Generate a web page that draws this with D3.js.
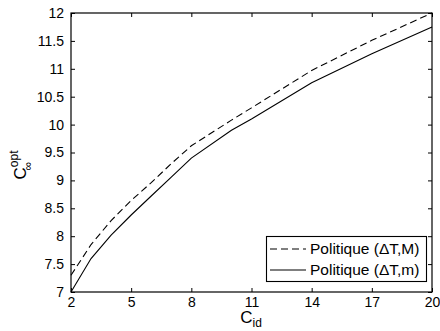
<!DOCTYPE html>
<html>
<head>
<meta charset="utf-8">
<script src="https://cdn.jsdelivr.net/npm/d3@7"></script>
<style>
  html, body { margin: 0; padding: 0; background: #fff; }
  svg { display: block; font-family: "Liberation Sans", Arial, sans-serif; }
</style>
</head>
<body>
<svg id="chart" width="440" height="331"></svg>
<script>
// C_id values and the optimal C∞ for both policies
const cId = [2, 3, 4, 5, 6, 7, 8, 10, 11, 14, 17, 20];
const policyM = [7.30, 7.85, 8.28, 8.64, 8.96, 9.30, 9.62, 10.08, 10.30, 10.97, 11.51, 12.00];
const policym = [7.00, 7.60, 8.02, 8.38, 8.72, 9.06, 9.40, 9.90, 10.10, 10.75, 11.27, 11.75];
const xTicks = [2, 5, 8, 11, 14, 17, 20];
const yTicks = [7, 7.5, 8, 8.5, 9, 9.5, 10, 10.5, 11, 11.5, 12];
const seriesNames = ["Politique (\u0394T,M)", "Politique (\u0394T,m)"];

const svg = d3.select("#chart");
const plotL = 71, plotR = 432, plotT = 13, plotB = 292;

const x = d3.scaleLinear().domain([2, 20]).range([plotL, plotR]);
const y = d3.scaleLinear().domain([7, 12]).range([plotB, plotT]);

const fmt = d => String(d);
const tickLen = 4;

// bottom and left axes with inward ticks
const gx = svg.append("g").attr("transform", `translate(0,${plotB})`)
  .call(d3.axisBottom(x).tickValues(xTicks).tickFormat(fmt).tickSizeInner(-tickLen).tickSizeOuter(0).tickPadding(5));
const gy = svg.append("g").attr("transform", `translate(${plotL},0)`)
  .call(d3.axisLeft(y).tickValues(yTicks).tickFormat(fmt).tickSizeInner(-tickLen).tickSizeOuter(0).tickPadding(7));
// top and right mirror ticks
const gxt = svg.append("g").attr("transform", `translate(0,${plotT})`)
  .call(d3.axisTop(x).tickValues(xTicks).tickFormat("").tickSizeInner(-tickLen).tickSizeOuter(0));
const gyr = svg.append("g").attr("transform", `translate(${plotR},0)`)
  .call(d3.axisRight(y).tickValues(yTicks).tickFormat("").tickSizeInner(-tickLen).tickSizeOuter(0));

[gx, gy, gxt, gyr].forEach(g => {
  g.select(".domain").remove();
  g.selectAll("line").attr("stroke", "#000").attr("stroke-width", 1);
  g.selectAll("text").attr("fill", "#000").attr("font-size", 14)
   .attr("font-family", "Liberation Sans, Arial, sans-serif");
});
gx.selectAll("text").attr("dy", "0.71em");

// plot box
svg.append("rect")
  .attr("x", plotL).attr("y", plotT)
  .attr("width", plotR - plotL).attr("height", plotB - plotT)
  .attr("fill", "none").attr("stroke", "#000").attr("stroke-width", 1.2);

// curves
const line = d3.line().x((d, i) => x(cId[i])).y(d => y(d));
svg.append("path").datum(policyM)
  .attr("d", line).attr("fill", "none").attr("stroke", "#000")
  .attr("stroke-width", 1.1).attr("stroke-dasharray", "7,4");
svg.append("path").datum(policym)
  .attr("d", line).attr("fill", "none").attr("stroke", "#000")
  .attr("stroke-width", 1.1);

// axis labels
const xl = svg.append("text").attr("x", 251).attr("y", 323)
  .attr("text-anchor", "middle").attr("font-size", 17).attr("fill", "#000");
xl.append("tspan").text("C");
xl.append("tspan").attr("font-size", 12).attr("dy", 4).text("id");

const yl = svg.append("text")
  .attr("transform", "translate(26,165) rotate(-90)")
  .attr("text-anchor", "middle").attr("font-size", 17).attr("fill", "#000");
yl.append("tspan").text("C");
yl.append("tspan").attr("font-size", 12).attr("dy", -8).text("opt");
yl.append("tspan").attr("font-size", 12).attr("dx", -20).attr("dy", 14).text("\u221E");

// legend
const lg = svg.append("g");
lg.append("rect").attr("x", 266.5).attr("y", 236.5).attr("width", 160).attr("height", 45)
  .attr("fill", "#fff").attr("stroke", "#000").attr("stroke-width", 1.1);
seriesNames.forEach((name, i) => {
  const yy = 249 + i * 21;
  lg.append("line").attr("x1", 270).attr("x2", 306).attr("y1", yy).attr("y2", yy)
    .attr("stroke", "#000").attr("stroke-width", 1.1)
    .attr("stroke-dasharray", i === 0 ? "7,4" : null);
  lg.append("text").attr("x", 310).attr("y", yy).attr("dy", "0.35em")
    .attr("font-size", 15.5).attr("fill", "#000").text(name);
});
</script>
</body>
</html>
